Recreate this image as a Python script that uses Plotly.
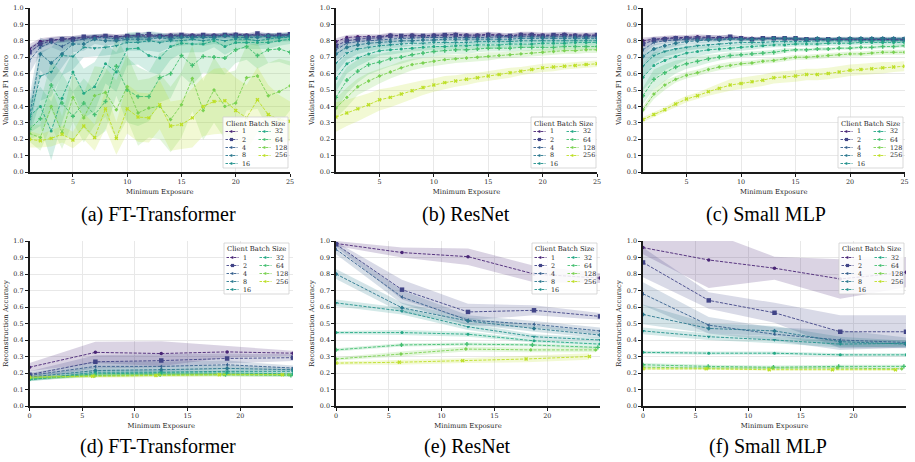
import plotly.graph_objects as go

W, H = 915, 462

SIZES = ["1", "2", "4", "8", "16", "32", "64", "128", "256"]
COLORS = ["#482475", "#414487", "#355f8d", "#2a788e", "#21918c",
          "#22a884", "#44bf70", "#7ad151", "#bddf26"]
SYMBOLS = ["circle", "square", "triangle-left", "diamond", "triangle-down",
           "circle", "cross", "diamond", "x"]
MSIZE = [3.5, 4.5, 3.5, 3.5, 3.5, 3, 3.5, 3, 3.5]

# ---------------- top row: Validation F1 Macro ----------------
X_TOP = list(range(1, 26))

FT_F1_MEAN = [
    [0.75, 0.795, 0.805, 0.81, 0.815, 0.82, 0.825, 0.83, 0.825, 0.83, 0.83, 0.83, 0.83, 0.835, 0.835, 0.835, 0.835, 0.835, 0.835, 0.84, 0.835, 0.835, 0.835, 0.835, 0.835],
    [0.73, 0.78, 0.80, 0.81, 0.81, 0.825, 0.82, 0.83, 0.82, 0.83, 0.835, 0.84, 0.83, 0.83, 0.835, 0.83, 0.835, 0.83, 0.835, 0.835, 0.83, 0.845, 0.83, 0.835, 0.84],
    [0.68, 0.76, 0.79, 0.765, 0.80, 0.81, 0.82, 0.82, 0.81, 0.82, 0.825, 0.82, 0.83, 0.82, 0.83, 0.825, 0.83, 0.83, 0.83, 0.835, 0.83, 0.83, 0.83, 0.83, 0.835],
    [0.34, 0.72, 0.665, 0.72, 0.78, 0.78, 0.81, 0.80, 0.80, 0.81, 0.81, 0.81, 0.82, 0.81, 0.82, 0.82, 0.82, 0.82, 0.83, 0.82, 0.82, 0.82, 0.83, 0.82, 0.83],
    [0.32, 0.585, 0.61, 0.71, 0.705, 0.76, 0.755, 0.76, 0.77, 0.79, 0.79, 0.80, 0.79, 0.80, 0.80, 0.81, 0.80, 0.81, 0.80, 0.81, 0.81, 0.80, 0.81, 0.82, 0.82],
    [0.34, 0.40, 0.25, 0.45, 0.61, 0.48, 0.52, 0.66, 0.61, 0.75, 0.755, 0.71, 0.695, 0.765, 0.785, 0.78, 0.78, 0.80, 0.765, 0.79, 0.79, 0.79, 0.79, 0.80, 0.81],
    [0.26, 0.325, 0.53, 0.42, 0.34, 0.42, 0.35, 0.43, 0.645, 0.50, 0.46, 0.46, 0.575, 0.60, 0.71, 0.65, 0.705, 0.70, 0.695, 0.745, 0.765, 0.71, 0.745, 0.75, 0.73],
    [0.235, 0.21, 0.40, 0.24, 0.455, 0.33, 0.465, 0.485, 0.38, 0.52, 0.36, 0.39, 0.40, 0.32, 0.41, 0.57, 0.375, 0.50, 0.40, 0.42, 0.575, 0.585, 0.465, 0.49, 0.525],
    [0.20, 0.19, 0.205, 0.23, 0.195, 0.28, 0.21, 0.385, 0.205, 0.385, 0.335, 0.33, 0.41, 0.28, 0.29, 0.33, 0.40, 0.43, 0.435, 0.375, 0.33, 0.44, 0.35, 0.32, 0.31],
]
FT_F1_SPREAD = [
    [0.03, 0.02, 0.02, 0.02, 0.015, 0.015, 0.015, 0.015, 0.015, 0.01, 0.01, 0.01, 0.01, 0.015, 0.015, 0.01, 0.01, 0.01, 0.01, 0.01, 0.01, 0.01, 0.01, 0.01, 0.01],
    [0.03, 0.025, 0.02, 0.02, 0.02, 0.015, 0.015, 0.015, 0.015, 0.015, 0.015, 0.015, 0.015, 0.015, 0.015, 0.015, 0.015, 0.015, 0.015, 0.015, 0.015, 0.015, 0.015, 0.015, 0.015],
    [0.08, 0.04, 0.03, 0.03, 0.02, 0.02, 0.02, 0.02, 0.02, 0.015, 0.015, 0.015, 0.015, 0.015, 0.015, 0.015, 0.015, 0.015, 0.015, 0.015, 0.015, 0.015, 0.015, 0.015, 0.015],
    [0.12, 0.10, 0.12, 0.08, 0.05, 0.04, 0.03, 0.03, 0.02, 0.02, 0.02, 0.02, 0.02, 0.02, 0.02, 0.02, 0.02, 0.02, 0.02, 0.02, 0.02, 0.02, 0.02, 0.02, 0.02],
    [0.10, 0.15, 0.15, 0.12, 0.08, 0.06, 0.05, 0.05, 0.05, 0.05, 0.05, 0.06, 0.06, 0.04, 0.03, 0.03, 0.03, 0.03, 0.03, 0.03, 0.03, 0.03, 0.03, 0.025, 0.025],
    [0.10, 0.12, 0.18, 0.15, 0.12, 0.15, 0.15, 0.12, 0.12, 0.10, 0.10, 0.10, 0.10, 0.08, 0.06, 0.05, 0.05, 0.04, 0.05, 0.04, 0.04, 0.04, 0.04, 0.03, 0.03],
    [0.06, 0.10, 0.15, 0.18, 0.15, 0.15, 0.15, 0.18, 0.18, 0.20, 0.18, 0.15, 0.15, 0.15, 0.12, 0.12, 0.10, 0.10, 0.10, 0.08, 0.08, 0.08, 0.08, 0.08, 0.08],
    [0.05, 0.08, 0.12, 0.10, 0.15, 0.15, 0.18, 0.15, 0.18, 0.20, 0.20, 0.18, 0.20, 0.20, 0.20, 0.20, 0.18, 0.20, 0.20, 0.20, 0.20, 0.20, 0.20, 0.20, 0.15],
    [0.05, 0.04, 0.05, 0.05, 0.05, 0.08, 0.08, 0.12, 0.10, 0.15, 0.15, 0.15, 0.15, 0.15, 0.15, 0.18, 0.18, 0.20, 0.20, 0.20, 0.20, 0.20, 0.18, 0.15, 0.12],
]

RES_F1_MEAN = [
    [0.795, 0.82, 0.825, 0.825, 0.825, 0.835, 0.83, 0.835, 0.83, 0.835, 0.835, 0.84, 0.835, 0.835, 0.84, 0.835, 0.83, 0.84, 0.84, 0.835, 0.835, 0.84, 0.835, 0.835, 0.835],
    [0.77, 0.80, 0.81, 0.815, 0.82, 0.83, 0.83, 0.83, 0.83, 0.83, 0.835, 0.835, 0.83, 0.83, 0.835, 0.83, 0.83, 0.835, 0.835, 0.83, 0.835, 0.835, 0.83, 0.83, 0.835],
    [0.745, 0.785, 0.795, 0.80, 0.805, 0.81, 0.815, 0.815, 0.82, 0.82, 0.82, 0.82, 0.82, 0.82, 0.82, 0.825, 0.825, 0.825, 0.825, 0.825, 0.825, 0.825, 0.825, 0.825, 0.825],
    [0.72, 0.76, 0.775, 0.785, 0.79, 0.795, 0.80, 0.80, 0.805, 0.805, 0.81, 0.81, 0.81, 0.81, 0.81, 0.81, 0.81, 0.815, 0.815, 0.815, 0.815, 0.815, 0.815, 0.815, 0.815],
    [0.665, 0.725, 0.75, 0.76, 0.77, 0.775, 0.78, 0.785, 0.785, 0.79, 0.79, 0.79, 0.79, 0.795, 0.795, 0.795, 0.795, 0.80, 0.80, 0.80, 0.80, 0.80, 0.80, 0.80, 0.80],
    [0.57, 0.66, 0.695, 0.72, 0.74, 0.745, 0.75, 0.755, 0.76, 0.765, 0.765, 0.77, 0.77, 0.775, 0.775, 0.775, 0.78, 0.78, 0.78, 0.785, 0.785, 0.785, 0.79, 0.79, 0.79],
    [0.455, 0.56, 0.615, 0.655, 0.67, 0.69, 0.70, 0.715, 0.725, 0.735, 0.74, 0.745, 0.745, 0.75, 0.755, 0.755, 0.755, 0.76, 0.76, 0.76, 0.76, 0.765, 0.765, 0.765, 0.765],
    [0.39, 0.455, 0.52, 0.555, 0.585, 0.61, 0.635, 0.655, 0.665, 0.675, 0.685, 0.69, 0.695, 0.70, 0.705, 0.71, 0.715, 0.72, 0.725, 0.73, 0.735, 0.74, 0.74, 0.745, 0.745],
    [0.335, 0.36, 0.385, 0.41, 0.44, 0.455, 0.475, 0.495, 0.515, 0.53, 0.545, 0.555, 0.565, 0.575, 0.585, 0.595, 0.605, 0.615, 0.625, 0.635, 0.64, 0.645, 0.65, 0.655, 0.66],
]
RES_F1_SPREAD = [
    [0.02, 0.015, 0.015, 0.015, 0.015, 0.015, 0.015, 0.015, 0.015, 0.015, 0.015, 0.015, 0.015, 0.015, 0.015, 0.015, 0.015, 0.015, 0.015, 0.015, 0.015, 0.015, 0.015, 0.015, 0.015],
    [0.02, 0.015, 0.015, 0.015, 0.015, 0.015, 0.015, 0.015, 0.015, 0.015, 0.015, 0.015, 0.015, 0.015, 0.015, 0.015, 0.015, 0.015, 0.015, 0.015, 0.015, 0.015, 0.015, 0.015, 0.015],
    [0.03, 0.02, 0.015, 0.015, 0.015, 0.01, 0.01, 0.01, 0.01, 0.01, 0.01, 0.01, 0.01, 0.01, 0.01, 0.01, 0.01, 0.01, 0.01, 0.01, 0.01, 0.01, 0.01, 0.01, 0.01],
    [0.04, 0.03, 0.02, 0.02, 0.015, 0.015, 0.015, 0.01, 0.01, 0.01, 0.01, 0.01, 0.01, 0.01, 0.01, 0.01, 0.01, 0.01, 0.01, 0.01, 0.01, 0.01, 0.01, 0.01, 0.01],
    [0.06, 0.04, 0.03, 0.025, 0.02, 0.02, 0.02, 0.015, 0.015, 0.015, 0.015, 0.015, 0.015, 0.015, 0.015, 0.015, 0.015, 0.015, 0.015, 0.015, 0.015, 0.015, 0.015, 0.015, 0.015],
    [0.08, 0.06, 0.05, 0.04, 0.03, 0.03, 0.025, 0.02, 0.02, 0.02, 0.02, 0.02, 0.02, 0.02, 0.02, 0.02, 0.02, 0.02, 0.02, 0.02, 0.02, 0.02, 0.02, 0.02, 0.02],
    [0.08, 0.08, 0.07, 0.06, 0.05, 0.045, 0.04, 0.035, 0.03, 0.03, 0.025, 0.025, 0.025, 0.02, 0.02, 0.02, 0.02, 0.02, 0.02, 0.02, 0.02, 0.02, 0.02, 0.02, 0.02],
    [0.06, 0.06, 0.05, 0.05, 0.045, 0.04, 0.04, 0.035, 0.03, 0.03, 0.03, 0.025, 0.025, 0.025, 0.025, 0.02, 0.02, 0.02, 0.02, 0.02, 0.02, 0.02, 0.02, 0.02, 0.02],
    [0.09, 0.08, 0.075, 0.07, 0.065, 0.06, 0.055, 0.05, 0.045, 0.04, 0.04, 0.035, 0.035, 0.03, 0.03, 0.03, 0.03, 0.025, 0.025, 0.025, 0.025, 0.02, 0.02, 0.02, 0.02],
]

MLP_F1_MEAN = [
    [0.80, 0.81, 0.815, 0.82, 0.82, 0.825, 0.82, 0.82, 0.82, 0.82, 0.815, 0.815, 0.815, 0.815, 0.81, 0.81, 0.81, 0.805, 0.81, 0.81, 0.81, 0.805, 0.81, 0.805, 0.805],
    [0.78, 0.805, 0.81, 0.815, 0.815, 0.815, 0.82, 0.815, 0.825, 0.815, 0.81, 0.815, 0.815, 0.815, 0.815, 0.81, 0.81, 0.81, 0.81, 0.81, 0.81, 0.81, 0.81, 0.81, 0.81],
    [0.745, 0.79, 0.80, 0.805, 0.81, 0.81, 0.81, 0.81, 0.815, 0.81, 0.81, 0.815, 0.815, 0.81, 0.81, 0.81, 0.81, 0.81, 0.81, 0.81, 0.81, 0.81, 0.81, 0.81, 0.81],
    [0.705, 0.75, 0.77, 0.785, 0.795, 0.80, 0.805, 0.805, 0.81, 0.81, 0.81, 0.81, 0.815, 0.815, 0.815, 0.81, 0.815, 0.81, 0.815, 0.815, 0.815, 0.815, 0.815, 0.815, 0.815],
    [0.647, 0.71, 0.735, 0.75, 0.76, 0.77, 0.775, 0.78, 0.785, 0.79, 0.79, 0.79, 0.795, 0.795, 0.795, 0.795, 0.80, 0.80, 0.80, 0.80, 0.80, 0.80, 0.80, 0.80, 0.80],
    [0.578, 0.65, 0.68, 0.705, 0.725, 0.735, 0.745, 0.75, 0.755, 0.76, 0.765, 0.77, 0.775, 0.775, 0.78, 0.78, 0.78, 0.785, 0.785, 0.785, 0.79, 0.79, 0.79, 0.79, 0.79],
    [0.465, 0.565, 0.605, 0.64, 0.66, 0.675, 0.69, 0.70, 0.71, 0.715, 0.72, 0.725, 0.73, 0.74, 0.745, 0.745, 0.75, 0.75, 0.755, 0.755, 0.76, 0.76, 0.765, 0.765, 0.77],
    [0.38, 0.475, 0.53, 0.565, 0.59, 0.605, 0.625, 0.64, 0.65, 0.66, 0.665, 0.675, 0.68, 0.69, 0.70, 0.70, 0.705, 0.71, 0.715, 0.72, 0.72, 0.725, 0.73, 0.73, 0.73],
    [0.32, 0.35, 0.38, 0.415, 0.445, 0.465, 0.49, 0.51, 0.53, 0.54, 0.55, 0.56, 0.575, 0.58, 0.585, 0.595, 0.595, 0.60, 0.61, 0.62, 0.625, 0.63, 0.635, 0.64, 0.645],
]
MLP_F1_SPREAD = [
    [0.02, 0.015, 0.015, 0.015, 0.015, 0.015, 0.015, 0.015, 0.015, 0.01, 0.01, 0.01, 0.01, 0.01, 0.01, 0.01, 0.01, 0.01, 0.01, 0.01, 0.01, 0.01, 0.01, 0.01, 0.01],
    [0.025, 0.02, 0.015, 0.015, 0.015, 0.015, 0.015, 0.015, 0.015, 0.01, 0.01, 0.01, 0.01, 0.01, 0.01, 0.01, 0.01, 0.01, 0.01, 0.01, 0.01, 0.01, 0.01, 0.01, 0.01],
    [0.03, 0.02, 0.015, 0.015, 0.01, 0.01, 0.01, 0.01, 0.01, 0.01, 0.01, 0.01, 0.01, 0.01, 0.01, 0.01, 0.01, 0.01, 0.01, 0.01, 0.01, 0.01, 0.01, 0.01, 0.01],
    [0.05, 0.03, 0.02, 0.02, 0.015, 0.015, 0.015, 0.01, 0.01, 0.01, 0.01, 0.01, 0.01, 0.01, 0.01, 0.01, 0.01, 0.01, 0.01, 0.01, 0.01, 0.01, 0.01, 0.01, 0.01],
    [0.07, 0.05, 0.03, 0.03, 0.02, 0.02, 0.02, 0.02, 0.015, 0.015, 0.015, 0.015, 0.015, 0.015, 0.015, 0.015, 0.015, 0.015, 0.015, 0.015, 0.015, 0.015, 0.015, 0.015, 0.015],
    [0.08, 0.08, 0.06, 0.05, 0.04, 0.03, 0.025, 0.02, 0.02, 0.02, 0.02, 0.015, 0.015, 0.015, 0.015, 0.015, 0.015, 0.015, 0.015, 0.015, 0.015, 0.015, 0.015, 0.015, 0.015],
    [0.05, 0.06, 0.05, 0.04, 0.03, 0.03, 0.025, 0.02, 0.02, 0.015, 0.015, 0.015, 0.015, 0.015, 0.01, 0.01, 0.01, 0.01, 0.01, 0.01, 0.01, 0.01, 0.01, 0.01, 0.01],
    [0.02, 0.03, 0.03, 0.02, 0.02, 0.02, 0.02, 0.02, 0.02, 0.015, 0.015, 0.015, 0.015, 0.015, 0.015, 0.015, 0.015, 0.015, 0.015, 0.015, 0.015, 0.015, 0.015, 0.015, 0.015],
    [0.015, 0.015, 0.015, 0.02, 0.02, 0.02, 0.025, 0.03, 0.035, 0.035, 0.035, 0.035, 0.035, 0.035, 0.035, 0.035, 0.035, 0.035, 0.035, 0.035, 0.035, 0.035, 0.035, 0.03, 0.03],
]

# ---------------- bottom row: Reconstruction Accuracy ----------------
X_BOT_STD = [0, 6.25, 12.5, 18.75, 25]
X_BOT_64 = [0, 6.2, 12.4, 18.6, 24.8]
X_BOT_128 = [0, 6.15, 12.3, 18.45, 24.6]
X_BOT_256 = [0, 6.0, 12.0, 18.0, 24.0]
X_BOT = [X_BOT_STD] * 6 + [X_BOT_64, X_BOT_128, X_BOT_256]

FT_REC_MEAN = [
    [0.235, 0.325, 0.318, 0.328, 0.32],
    [0.19, 0.268, 0.275, 0.288, 0.293],
    [0.185, 0.24, 0.24, 0.25, 0.23],
    [0.175, 0.215, 0.22, 0.228, 0.22],
    [0.16, 0.205, 0.205, 0.21, 0.21],
    [0.16, 0.195, 0.20, 0.20, 0.195],
    [0.165, 0.185, 0.19, 0.19, 0.185],
    [0.17, 0.185, 0.19, 0.19, 0.19],
    [0.175, 0.18, 0.185, 0.19, 0.19],
]
FT_REC_SPREAD = [
    [0.025, 0.065, 0.075, 0.035, 0.015],
    [0.02, 0.04, 0.04, 0.03, 0.02],
    [0.015, 0.03, 0.03, 0.025, 0.015],
    [0.01, 0.02, 0.02, 0.02, 0.01],
    [0.01, 0.015, 0.015, 0.015, 0.01],
    [0.01, 0.01, 0.01, 0.01, 0.01],
    [0.01, 0.01, 0.01, 0.01, 0.01],
    [0.01, 0.01, 0.01, 0.01, 0.01],
    [0.01, 0.01, 0.01, 0.01, 0.01],
]

RES_REC_MEAN = [
    [0.985, 0.93, 0.905, 0.80, 0.775],
    [0.98, 0.705, 0.57, 0.58, 0.543],
    [0.95, 0.66, 0.52, 0.495, 0.455],
    [0.80, 0.595, 0.515, 0.47, 0.43],
    [0.625, 0.575, 0.48, 0.42, 0.40],
    [0.445, 0.445, 0.435, 0.395, 0.375],
    [0.34, 0.37, 0.375, 0.37, 0.355],
    [0.285, 0.315, 0.345, 0.34, 0.34],
    [0.26, 0.265, 0.275, 0.285, 0.30],
]
RES_REC_SPREAD = [
    [0.015, 0.03, 0.05, 0.05, 0.03],
    [0.015, 0.06, 0.05, 0.03, 0.02],
    [0.03, 0.04, 0.03, 0.02, 0.02],
    [0.03, 0.03, 0.02, 0.02, 0.02],
    [0.02, 0.02, 0.02, 0.015, 0.015],
    [0.01, 0.015, 0.015, 0.01, 0.01],
    [0.01, 0.01, 0.01, 0.01, 0.01],
    [0.01, 0.015, 0.015, 0.015, 0.015],
    [0.01, 0.015, 0.015, 0.02, 0.02],
]

MLP_REC_MEAN = [
    [0.96, 0.885, 0.835, 0.77, 0.81],
    [0.87, 0.64, 0.565, 0.45, 0.45],
    [0.68, 0.49, 0.435, 0.40, 0.385],
    [0.555, 0.47, 0.455, 0.39, 0.375],
    [0.455, 0.42, 0.40, 0.375, 0.38],
    [0.325, 0.32, 0.32, 0.31, 0.31],
    [0.25, 0.24, 0.235, 0.24, 0.24],
    [0.235, 0.23, 0.23, 0.23, 0.225],
    [0.225, 0.225, 0.22, 0.22, 0.22],
]
MLP_REC_SPREAD = [
    [0.04, 0.17, 0.07, 0.12, 0.09],
    [0.09, 0.05, 0.06, 0.10, 0.10],
    [0.07, 0.05, 0.04, 0.06, 0.03],
    [0.06, 0.03, 0.03, 0.03, 0.02],
    [0.02, 0.02, 0.02, 0.02, 0.02],
    [0.01, 0.01, 0.01, 0.01, 0.01],
    [0.01, 0.01, 0.01, 0.01, 0.01],
    [0.005, 0.005, 0.005, 0.005, 0.005],
    [0.005, 0.005, 0.005, 0.005, 0.005],
]

CAPTIONS = ["(a) FT-Transformer", "(b) ResNet", "(c) Small MLP",
            "(d) FT-Transformer", "(e) ResNet", "(f) Small MLP"]
Y_TITLES = ["Validation F1 Macro"] * 3 + ["Reconstruction Accuracy"] * 3
X_TITLE = "Minimum Exposure"
LEGEND_TITLE = "Client Batch Size"
TOP_TICKS = [5, 10, 15, 20, 25]
BOT_TICKS = [0, 5, 10, 15, 20]
Y_TICKS = [i / 10 for i in range(11)]

# ---------------- layout geometry (pixels) ----------------
PANELS = [
    dict(x=(29.5, 290.0), y=(8.0, 172.0), xr=[1, 25]),
    dict(x=(336.0, 597.0), y=(8.0, 172.0), xr=[1, 25]),
    dict(x=(643.0, 904.5), y=(8.0, 172.0), xr=[1, 25]),
    dict(x=(29.5, 293.0), y=(241.0, 406.0), xr=[0, 25]),
    dict(x=(336.0, 600.0), y=(241.0, 406.0), xr=[0, 25]),
    dict(x=(643.0, 906.0), y=(241.0, 406.0), xr=[0, 25]),
]
CAPTION_POS = [(158, 214), (466, 214), (766, 214), (158, 446), (468, 446), (768, 446)]
LEGEND_POS = [(223, 117), (531, 117), (838, 117), (224, 243), (532, 243), (839, 243)]

DATA = [
    (X_TOP, FT_F1_MEAN, FT_F1_SPREAD),
    (X_TOP, RES_F1_MEAN, RES_F1_SPREAD),
    (X_TOP, MLP_F1_MEAN, MLP_F1_SPREAD),
    (None, FT_REC_MEAN, FT_REC_SPREAD),
    (None, RES_REC_MEAN, RES_REC_SPREAD),
    (None, MLP_REC_MEAN, MLP_REC_SPREAD),
]


def px(x):
    return x / W


def py(y):
    return 1 - y / H


def rgba(hexc, a):
    h = hexc.lstrip("#")
    r, g, b = int(h[0:2], 16), int(h[2:4], 16), int(h[4:6], 16)
    return f"rgba({r},{g},{b},{a})"


SERIF = "DejaVu Serif"
CAPTION_FONT = "Liberation Serif, Times New Roman, serif"
DASH = "3.2px,1.4px"
TICK_SIZE = 6.4
TITLE_SIZE = 6.8
TXT = "#262626"

fig = go.Figure()
layout = dict(
    width=W, height=H, margin=dict(l=0, r=0, t=0, b=0),
    paper_bgcolor="white", plot_bgcolor="white", showlegend=False,
    font=dict(family=SERIF, size=TICK_SIZE, color=TXT),
)
shapes = []
annotations = []

for p, (xs_top, means, spreads) in enumerate(DATA):
    sfx = "" if p == 0 else str(p + 1)
    xa, ya = "x" + sfx, "y" + sfx
    # bands
    for i in range(len(SIZES)):
        xs = xs_top if xs_top is not None else X_BOT[i]
        up = [m + s for m, s in zip(means[i], spreads[i])]
        lo = [m - s for m, s in zip(means[i], spreads[i])]
        fig.add_trace(go.Scatter(
            x=list(xs) + list(xs)[::-1], y=up + lo[::-1], fill="toself",
            fillcolor=rgba(COLORS[i], 0.2), line=dict(width=0), mode="lines",
            hoverinfo="skip", showlegend=False, xaxis=xa, yaxis=ya))
    # lines
    for i in range(len(SIZES)):
        xs = xs_top if xs_top is not None else X_BOT[i]
        fig.add_trace(go.Scatter(
            x=xs, y=means[i], mode="lines+markers", name=SIZES[i],
            line=dict(color=COLORS[i], width=0.9, dash=DASH),
            marker=dict(symbol=SYMBOLS[i], size=MSIZE[i], color=COLORS[i],
                        line=dict(width=0)),
            showlegend=False, xaxis=xa, yaxis=ya))

    g = PANELS[p]
    axis_common = dict(
        showgrid=True, gridcolor="#e8e8e8", gridwidth=0.8,
        showline=True, linecolor="#1a1a1a", linewidth=1.5,
        ticks="outside", ticklen=3, tickwidth=0.8, tickcolor="#1a1a1a",
        tickfont=dict(family=SERIF, size=TICK_SIZE, color=TXT),
        zeroline=False, automargin=False,
    )
    layout["xaxis" + sfx] = dict(
        axis_common, domain=[px(g["x"][0]), px(g["x"][1])], range=g["xr"],
        anchor=ya, tickvals=TOP_TICKS if p < 3 else BOT_TICKS,
        title=dict(text=X_TITLE, font=dict(family=SERIF, size=TITLE_SIZE, color=TXT), standoff=4),
    )
    layout["yaxis" + sfx] = dict(
        axis_common, domain=[py(g["y"][1]), py(g["y"][0])], range=[0, 1.0],
        anchor=xa, tickvals=Y_TICKS, tickformat=".1f",
        title=dict(text=Y_TITLES[p], font=dict(family=SERIF, size=TITLE_SIZE, color=TXT), standoff=4),
    )

    # caption
    cx, cy = CAPTION_POS[p]
    annotations.append(dict(
        text=CAPTIONS[p], x=px(cx), y=py(cy), xref="paper", yref="paper",
        xanchor="center", yanchor="middle", showarrow=False,
        font=dict(family=CAPTION_FONT, size=20, color="black")))

    # legend box (matplotlib-style, two columns)
    bx, by = LEGEND_POS[p]
    bw, bh = 65, 51
    shapes.append(dict(
        type="rect", xref="paper", yref="paper", x0=px(bx), x1=px(bx + bw),
        y0=py(by + bh), y1=py(by), fillcolor="rgba(255,255,255,0.85)",
        line=dict(color="#cfcfcf", width=0.8), layer="above"))
    annotations.append(dict(
        text=LEGEND_TITLE, x=px(bx + bw / 2), y=py(by + 6.5), xref="paper", yref="paper",
        xanchor="center", yanchor="middle", showarrow=False,
        font=dict(family=SERIF, size=TITLE_SIZE, color=TXT)))
    for i, s in enumerate(SIZES):
        col, row = (0, i) if i < 5 else (1, i - 5)
        gx = bx + 2.5 + col * 33
        gy = by + 14.5 + row * 8
        shapes.append(dict(
            type="line", xref="paper", yref="paper", x0=px(gx), x1=px(gx + 12),
            y0=py(gy), y1=py(gy), line=dict(color=COLORS[i], width=0.9, dash="2.5px,1.2px"),
            layer="above"))
        r = 1.6 if s == "2" else 1.2
        shapes.append(dict(
            type="rect" if s == "2" else "circle", xref="paper", yref="paper",
            x0=px(gx + 6 - r), x1=px(gx + 6 + r), y0=py(gy + r), y1=py(gy - r),
            fillcolor=COLORS[i], line=dict(width=0), layer="above"))
        annotations.append(dict(
            text=s, x=px(gx + 14.5), y=py(gy), xref="paper", yref="paper",
            xanchor="left", yanchor="middle", showarrow=False,
            font=dict(family=SERIF, size=TICK_SIZE, color=TXT)))

layout["shapes"] = shapes
layout["annotations"] = annotations
fig.update_layout(**layout)
fig.write_html("out.html")
